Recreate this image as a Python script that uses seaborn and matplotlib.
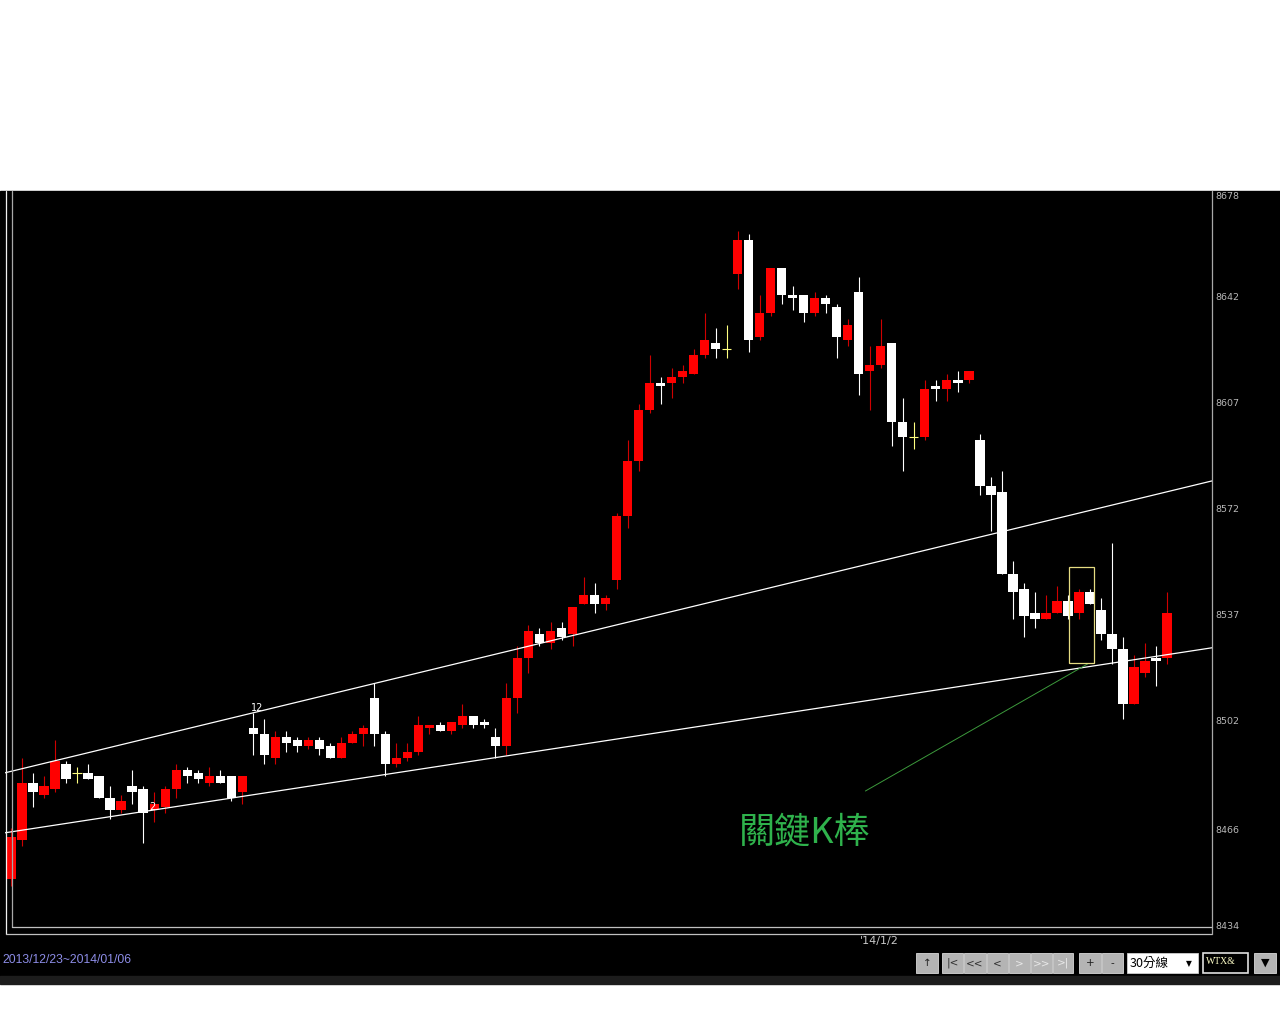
import matplotlib
matplotlib.use("Agg")
import matplotlib.pyplot as plt
from matplotlib.lines import Line2D
from matplotlib.patches import Rectangle
import seaborn as sns

# 30 min bars, 2013/12/23 ~ 2014/01/06
opens = [8450, 8463, 8482, 8478, 8480, 8488, 8485, 8485, 8484, 8477,
         8473, 8481, 8480, 8473, 8474, 8480, 8486, 8485, 8482, 8484,
         8484, 8479, 8500, 8498, 8490, 8497, 8496, 8494, 8496, 8494,
         8490, 8495, 8498, 8510, 8498, 8488, 8490, 8492, 8500, 8501,
         8499, 8501, 8504, 8502, 8497, 8494, 8510, 8523, 8531, 8528,
         8533, 8531, 8541, 8544, 8541, 8549, 8570, 8588, 8605, 8614,
         8614, 8616, 8617, 8623, 8627, 8625, 8650, 8661, 8629, 8637,
         8652, 8643, 8643, 8637, 8642, 8639, 8628, 8644, 8618, 8620,
         8627, 8601, 8596, 8596, 8613, 8612, 8615, 8615, 8595, 8580,
         8578, 8551, 8546, 8538, 8536, 8538, 8542, 8538, 8545, 8539,
         8531, 8526, 8508, 8518, 8523, 8523]
highs = [8467, 8490, 8485, 8484, 8496, 8489, 8487, 8488, 8484, 8481,
         8478, 8486, 8481, 8479, 8481, 8488, 8487, 8486, 8487, 8486,
         8484, 8484, 8505, 8503, 8499, 8499, 8497, 8497, 8497, 8495,
         8497, 8499, 8501, 8515, 8499, 8495, 8495, 8504, 8501, 8502,
         8502, 8508, 8504, 8503, 8500, 8515, 8527, 8534, 8533, 8535,
         8535, 8540, 8550, 8548, 8544, 8571, 8595, 8607, 8623, 8616,
         8619, 8620, 8625, 8637, 8632, 8633, 8664, 8663, 8643, 8652,
         8652, 8646, 8643, 8644, 8643, 8640, 8635, 8649, 8626, 8635,
         8627, 8609, 8601, 8615, 8615, 8617, 8618, 8618, 8597, 8583,
         8585, 8555, 8548, 8545, 8544, 8547, 8544, 8546, 8546, 8543,
         8561, 8530, 8524, 8528, 8527, 8545]
lows = [8448, 8461, 8474, 8477, 8479, 8482, 8482, 8483, 8477, 8470,
        8472, 8475, 8462, 8469, 8472, 8477, 8482, 8482, 8481, 8482,
        8476, 8475, 8491, 8488, 8488, 8492, 8492, 8493, 8491, 8490,
        8490, 8495, 8494, 8494, 8484, 8487, 8489, 8491, 8498, 8499,
        8498, 8500, 8500, 8500, 8490, 8491, 8505, 8518, 8527, 8526,
        8529, 8527, 8541, 8538, 8539, 8546, 8566, 8585, 8604, 8607,
        8609, 8614, 8617, 8622, 8622, 8622, 8645, 8624, 8628, 8636,
        8640, 8638, 8634, 8636, 8637, 8622, 8626, 8610, 8605, 8619,
        8593, 8585, 8592, 8595, 8608, 8608, 8611, 8614, 8577, 8565,
        8551, 8536, 8530, 8533, 8536, 8538, 8536, 8536, 8541, 8529,
        8521, 8503, 8508, 8517, 8514, 8521]
closes = [8464, 8482, 8479, 8481, 8489, 8483, 8485, 8483, 8477, 8473,
          8476, 8479, 8472, 8475, 8480, 8486, 8484, 8483, 8484, 8482,
          8477, 8484, 8498, 8491, 8497, 8495, 8494, 8496, 8493, 8490,
          8495, 8498, 8500, 8498, 8488, 8490, 8492, 8501, 8501, 8499,
          8502, 8504, 8501, 8501, 8494, 8510, 8523, 8532, 8528, 8532,
          8530, 8540, 8544, 8541, 8543, 8570, 8588, 8605, 8614, 8613,
          8616, 8618, 8623, 8628, 8625, 8625, 8661, 8628, 8637, 8652,
          8643, 8642, 8637, 8642, 8640, 8629, 8633, 8617, 8620, 8626,
          8601, 8596, 8596, 8612, 8612, 8615, 8614, 8618, 8580, 8577,
          8551, 8545, 8537, 8536, 8538, 8542, 8537, 8545, 8541, 8531,
          8526, 8508, 8520, 8522, 8522, 8538]

# trend lines (bar index, price)
upper_bars = [-0.55, 109.1]
upper_prices = [8485.2, 8581.6]
lower_bars = [-0.55, 109.1]
lower_prices = [8465.4, 8526.5]
pointer_bars = [77.6, 97.8]
pointer_prices = [8479.2, 8521.2]
box_bars = [96.1, 98.4]
box_prices = [8521.5, 8553.2]

price_labels = ["8678", "8642", "8607", "8572", "8537", "8502", "8466", "8434"]
price_ticks = [8678, 8642, 8607, 8572, 8537, 8502, 8466, 8434]
date_label_bar = 77
date_label = "'14/1/2"
range_label = "2013/12/23~2014/01/06"

sns.set_style("dark", {"axes.facecolor": "black", "figure.facecolor": "white"})
plt.rcParams['font.family'] = ['DejaVu Sans', 'Noto Sans CJK TC']


def fx(p):
    return p / 1280


def fy(p):
    return 1 - p / 1024


fig = plt.figure(figsize=(12.8, 10.24), dpi=100)
fig.patches.append(Rectangle((0, fy(976)), 1, (976 - 191) / 1024, transform=fig.transFigure,
                             color="black", zorder=-10))
fig.patches.append(Rectangle((0, fy(984)), 1, 8 / 1024, transform=fig.transFigure,
                             color="#1c1c1c", zorder=-10))

ax = fig.add_axes([fx(5), fy(927), 1207 / 1280, 736 / 1024])
ax.set_facecolor("black")
for s in ax.spines.values():
    s.set_visible(False)
ax.set_xticks([])
ax.set_yticks([])
ax.set_xlim(-0.545, 109.08)
ax.set_ylim(8434.3, 8677.3)

n = len(opens)
for i in range(n):
    o, h, l, c = opens[i], highs[i], lows[i], closes[i]
    if c > o:
        ax.vlines(i, l, h, color="#d00000", lw=0.8, zorder=2)
        ax.bar(i, c - o, bottom=o, width=0.84, color="#ff0000", edgecolor="#ff0000",
               linewidth=0, zorder=3)
    elif c < o:
        ax.vlines(i, l, h, color="white", lw=0.8, zorder=2)
        ax.bar(i, o - c, bottom=c, width=0.84, color="white", edgecolor="white",
               linewidth=0, zorder=3)
    else:
        ax.vlines(i, l, h, color="#ffff80", lw=0.8, zorder=2)
        ax.hlines(o, i - 0.42, i + 0.42, color="#ffff80", lw=0.8, zorder=3)

sns.lineplot(x=upper_bars, y=upper_prices, ax=ax, color="white", linewidth=0.9, zorder=4)
sns.lineplot(x=lower_bars, y=lower_prices, ax=ax, color="white", linewidth=0.9, zorder=4)
sns.lineplot(x=pointer_bars, y=pointer_prices, ax=ax, color="#3c9a3c", linewidth=0.7, zorder=4)

ax.add_patch(Rectangle((box_bars[0], box_prices[0]), box_bars[1] - box_bars[0],
                       box_prices[1] - box_prices[0], fill=False, edgecolor="#e6dc82",
                       lw=0.9, zorder=5))

ax.text(72.1, 8465.4, "關鍵K棒", color="#2fb24c", fontsize=26, ha="center", va="center",
        family=["Noto Sans CJK TC", "DejaVu Sans"], zorder=6)
ax.text(22.4, 8506.6, "12", color="white", fontsize=7, ha="center", va="center", zorder=6)
ax.text(12.8, 8473.8, "2", color="white", fontsize=7, ha="center", va="center", zorder=6)

# right price scale
ytop, ybot = 8675.6, 8434.3
for v, lab in zip(price_ticks, price_labels):
    yv = min(max(v, ybot), ytop)
    ax.text(1.0025, yv, lab, transform=ax.get_yaxis_transform(), color="#b8b8b8",
            fontsize=6.8, ha="left", va="center", clip_on=False)

# frame lines
frame = [((5.5, 5.5), (191, 934), "#f0f0f0"),
         ((11.5, 11.5), (191, 926.5), "#a8a8a8"),
         ((11.5, 1212), (926.5, 926.5), "#c0c0c0"),
         ((5.5, 1212), (934, 934), "#c0c0c0"),
         ((1212, 1212), (191, 934), "#a8a8a8")]
for xs, ys, col in frame:
    fig.add_artist(Line2D([fx(xs[0]), fx(xs[1])], [fy(ys[0]), fy(ys[1])],
                          transform=fig.transFigure, color=col, lw=0.9))

x_date = 11 + 11.01 * date_label_bar
fig.text(fx(x_date + 1), fy(941), date_label, color="#c8c8c8", fontsize=8, ha="left", va="center")
fig.text(fx(2), fy(960), range_label, color="#8c8ce6", fontsize=8.8, ha="left", va="center",
         family="Liberation Sans")

# bottom buttons
buttons = [(916, 938, "↑", "#202020"), (942, 963, "|<", "#303030"), (964, 986, "<<", "#303030"),
           (987, 1008, "<", "#303030"), (1009, 1030, ">", "#e8e8e8"), (1031, 1052, ">>", "#e8e8e8"),
           (1053, 1073, ">|", "#e8e8e8"), (1079, 1101, "+", "#202020"), (1102, 1123, "-", "#202020")]
for x0, x1, lab, tc in buttons:
    fig.patches.append(Rectangle((fx(x0), fy(973)), fx(x1 - x0), 20 / 1024,
                                 transform=fig.transFigure, facecolor="#b4b4b4",
                                 edgecolor="#d8d8d8", lw=0.6))
    fig.text(fx((x0 + x1) / 2), fy(963), lab, color=tc, fontsize=7.5, ha="center", va="center")

fig.patches.append(Rectangle((fx(1127), fy(973)), fx(71), 20 / 1024, transform=fig.transFigure,
                             facecolor="white", edgecolor="#d0d0d0", lw=0.6))
fig.text(fx(1130), fy(963), "30分線", color="black", fontsize=9, ha="left", va="center",
         family=["Noto Sans CJK TC", "DejaVu Sans"])
fig.text(fx(1189), fy(964), "▼", color="black", fontsize=5.5, ha="center", va="center")

fig.patches.append(Rectangle((fx(1203), fy(973)), fx(45), 20 / 1024, transform=fig.transFigure,
                             facecolor="black", edgecolor="#e0e0e0", lw=1.2))
fig.text(fx(1206), fy(961), "WTX&", color="#ffffc8", fontsize=7, ha="left", va="center",
         family="Liberation Serif")

fig.patches.append(Rectangle((fx(1254), fy(973)), fx(22), 20 / 1024, transform=fig.transFigure,
                             facecolor="#b4b4b4", edgecolor="#d8d8d8", lw=0.6))
fig.text(fx(1265), fy(963), "▼", color="black", fontsize=8, ha="center", va="center")

fig.savefig("out.png", dpi=100, facecolor="white")
